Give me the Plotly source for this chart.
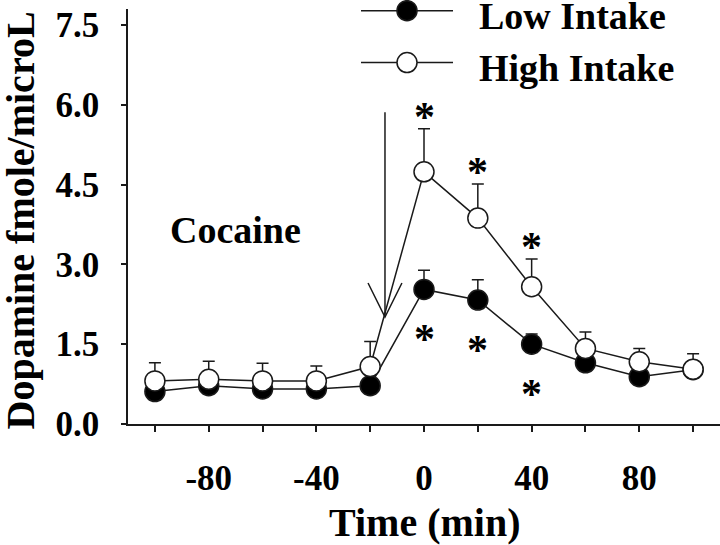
import plotly.graph_objects as go

# ---- data ----
time_min = [-100, -80, -60, -40, -20, 0, 20, 40, 60, 80, 100]
low_mean = [0.61, 0.72, 0.66, 0.66, 0.72, 2.53, 2.33, 1.50, 1.15, 0.89, 1.02]
low_sem = [0.10, 0.10, 0.10, 0.10, 0.10, 0.36, 0.38, 0.19, 0.10, 0.10, 0.10]
high_mean = [0.81, 0.84, 0.81, 0.81, 1.08, 4.74, 3.87, 2.58, 1.42, 1.17, 1.03]
high_sem = [0.34, 0.34, 0.33, 0.28, 0.47, 0.81, 0.64, 0.52, 0.31, 0.25, 0.29]
sig_high_times = [0, 20, 40]
sig_low_times = [0, 20, 40]

x_tickvals = [-100, -80, -60, -40, -20, 0, 20, 40, 60, 80, 100]
x_ticktext = ["", "-80", "", "-40", "", "0", "", "40", "", "80", ""]
y_tickvals = [0.0, 1.5, 3.0, 4.5, 6.0, 7.5]
y_ticktext = ["0.0", "1.5", "3.0", "4.5", "6.0", "7.5"]

series_names = ["Low Intake", "High Intake"]
injection_time = -14.5
injection_label = "Cocaine"

FONT = "Liberation Serif"
INK = "#1a1a1a"

fig = go.Figure()

fig.add_trace(go.Scatter(
    x=time_min, y=low_mean, mode="lines+markers", name=series_names[0],
    line=dict(color=INK, width=1.5),
    marker=dict(symbol="circle", size=20, color="black", line=dict(color=INK, width=1.5)),
    error_y=dict(type="data", array=low_sem, arrayminus=[0] * len(low_sem),
                 symmetric=False, color=INK, thickness=1.5, width=6),
    showlegend=False,
))
fig.add_trace(go.Scatter(
    x=time_min, y=high_mean, mode="lines+markers", name=series_names[1],
    line=dict(color=INK, width=1.5),
    marker=dict(symbol="circle", size=20, color="white", line=dict(color=INK, width=1.5)),
    error_y=dict(type="data", array=high_sem, arrayminus=[0] * len(high_sem),
                 symmetric=False, color=INK, thickness=1.5, width=6),
    showlegend=False,
))

annotations = []
# significance asterisks
for t in sig_high_times:
    i = time_min.index(t)
    annotations.append(dict(x=t, y=high_mean[i] + high_sem[i], xref="x", yref="y",
                            text="*", showarrow=False, yanchor="middle", yshift=12,
                            font=dict(family=FONT, size=42, color="black", weight="bold")))
for t in sig_low_times:
    i = time_min.index(t)
    annotations.append(dict(x=t, y=low_mean[i], xref="x", yref="y",
                            text="*", showarrow=False, yanchor="middle", yshift=-50,
                            font=dict(family=FONT, size=42, color="black", weight="bold")))

# Cocaine label
annotations.append(dict(x=-70, y=3.65, xref="x", yref="y", text=injection_label,
                        showarrow=False, font=dict(family=FONT, size=38, color="black", weight="bold")))

# axis titles
annotations.append(dict(x=-0.181, y=0.49, xref="paper", yref="paper", text="Dopamine fmole/microL",
                        textangle=-90, showarrow=False, xanchor="center", yanchor="middle",
                        font=dict(family=FONT, size=40, color="black", weight="bold")))
annotations.append(dict(x=0.5, y=-0.237, xref="paper", yref="paper", text="Time (min)",
                        showarrow=False, xanchor="center", yanchor="middle",
                        font=dict(family=FONT, size=40, color="black", weight="bold")))

# legend texts
leg_y = [0.996, 0.871]
for name, yy in zip(series_names, leg_y):
    annotations.append(dict(x=0.5895, y=yy, xref="paper", yref="paper", text=name,
                            xanchor="left", yanchor="middle", showarrow=False, yshift=-5,
                            font=dict(family=FONT, size=38, color="black", weight="bold")))

shapes = []
# legend lines and markers
leg_fill = ["black", "white"]
for fill, yy in zip(leg_fill, leg_y):
    shapes.append(dict(type="line", xref="paper", yref="paper", x0=0.3936, x1=0.549, y0=yy, y1=yy,
                       line=dict(color=INK, width=1.5)))
    shapes.append(dict(type="circle", xref="paper", yref="paper", xsizemode="pixel", ysizemode="pixel",
                       xanchor=0.4713, yanchor=yy, x0=-10, x1=10, y0=-10, y1=10,
                       fillcolor=fill, line=dict(color=INK, width=1.5)))

# injection arrow (open head)
arrow_top, arrow_tip = 5.86, 2.01
shapes.append(dict(type="line", xref="x", yref="y", x0=injection_time, x1=injection_time,
                   y0=arrow_top, y1=arrow_tip, line=dict(color=INK, width=1.5)))
shapes.append(dict(type="path", xref="x", yref="y",
                   path=f"M {injection_time - 6.3},{arrow_tip + 0.64} L {injection_time},{arrow_tip} L {injection_time + 6.3},{arrow_tip + 0.64}",
                   line=dict(color=INK, width=1.5)))

fig.update_layout(
    width=720, height=545,
    margin=dict(l=128, r=0, t=9, b=121),
    plot_bgcolor="white", paper_bgcolor="white",
    annotations=annotations, shapes=shapes,
    showlegend=False,
)
fig.update_xaxes(
    range=[-110, 110], tickmode="array", tickvals=x_tickvals, ticktext=x_ticktext,
    showline=True, linecolor=INK, linewidth=1.5, mirror=False,
    ticks="outside", ticklen=6, tickwidth=1.5, tickcolor=INK,
    showgrid=False, zeroline=False, ticklabelstandoff=16,
    tickfont=dict(family=FONT, size=35, color="black", weight="bold"),
)
fig.update_yaxes(
    range=[0, 7.8], tickmode="array", tickvals=y_tickvals, ticktext=y_ticktext,
    showline=True, linecolor=INK, linewidth=1.5, mirror=False,
    ticks="outside", ticklen=5, tickwidth=1.5, tickcolor=INK,
    showgrid=False, zeroline=False, ticklabelstandoff=15,
    tickfont=dict(family=FONT, size=35, color="black", weight="bold"),
)

fig.write_html("out.html", config={"displayModeBar": False},
               post_script="document.body.style.margin='0px';document.body.style.overflow='hidden';")
